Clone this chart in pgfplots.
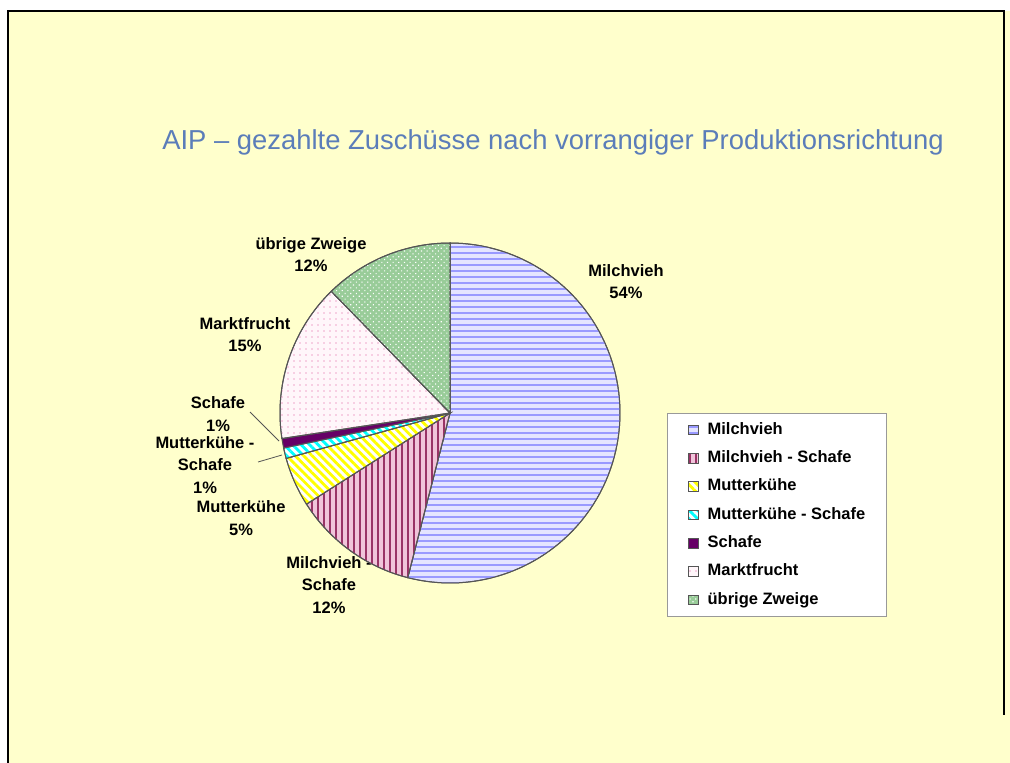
\documentclass[border=0pt]{standalone}
\usepackage{pgfplots}
\pgfplotsset{compat=1.18}
\usetikzlibrary{patterns,patterns.meta}
\usepackage{fontspec}
\setmainfont{Liberation Sans}

\definecolor{bgyellow}{HTML}{FFFFCC}
\definecolor{titleblue}{HTML}{5B7DB9}
\definecolor{lav}{HTML}{9999FF}
\definecolor{lavbg}{HTML}{E4E4FF}
\definecolor{plum}{HTML}{993366}
\definecolor{pinkbg}{HTML}{F0C4DA}
\definecolor{ylw}{HTML}{FFFF00}
\definecolor{cyn}{HTML}{00FFFF}
\definecolor{purp}{HTML}{660066}
\definecolor{pinkdot}{HTML}{F0A8CC}
\definecolor{pinkbg2}{HTML}{FFF6FA}
\definecolor{grn}{HTML}{99CC99}
\definecolor{edge}{HTML}{555555}

% shares in percent (start of slice = sum of previous shares)
% Milchvieh 54.0, Milchvieh - Schafe 12.0, Mutterkuehe 4.7,
% Mutterkuehe - Schafe 1.0, Schafe 0.9, Marktfrucht 15.1, uebrige Zweige 12.3
\newcommand{\slice}[4]{%
  \pgfmathsetmacro\dA{90-3.6*(#1+#2)}%
  \pgfmathsetmacro\dB{90-3.6*(#1)}%
  \addplot[#3, domain=\dA:\dB, samples=90] ({cos(x)},{sin(x)}) -- (axis cs:0,0) -- cycle;
  \addlegendentry{#4}%
}

\begin{document}
\begin{tikzpicture}[x=0.5pt,y=-0.5pt]
\useasboundingbox (0,0) rectangle (1010,763);
\fill[white] (0,0) rectangle (1010,763);
\fill[bgyellow] (8,11) rectangle (1010,763);
\draw[black, line width=1pt] (8,763) -- (8,11) -- (1004,11) -- (1004,715);

\node[text=titleblue, font=\fontsize{13.7}{16}\selectfont] at (553,142)
  {AIP – gezahlte Zuschüsse nach vorrangiger Produktionsrichtung};

\tikzset{lab/.style={align=center, font=\bfseries\fontsize{8.25}{11.3}\selectfont, inner sep=0pt}}
\node[lab] at (626,281.5) {Milchvieh\\54\%};
\node[lab] at (311,254.5) {übrige Zweige\\12\%};
\node[lab] at (245,334.5) {Marktfrucht\\15\%};
\node[lab] at (218,414) {Schafe\\1\%};
\node[lab] at (205,465) {Mutterkühe -\\Schafe\\1\%};
\node[lab] at (241,518) {Mutterkühe\\5\%};
\node[lab] at (329,585) {Milchvieh -\\Schafe\\12\%};
\draw[edge, line width=0.4pt] (250,412) -- (279,441);
\draw[edge, line width=0.4pt] (258,462) -- (282,455);

\begin{axis}[
  at={(225pt,-206.5pt)}, anchor=center,
  width=170pt, height=170pt, scale only axis,
  xmin=-1, xmax=1, ymin=-1, ymax=1,
  hide axis, clip=false,
  every axis plot/.append style={draw=edge, line width=0.5pt},
  legend image code/.code={\draw[#1] (0pt,-2.4pt) rectangle (4.8pt,2.4pt);},
  legend cell align=left,
  legend style={at={(1.1382,0.5)}, anchor=north west,
    draw=gray!80, fill=white,
    font=\bfseries\fontsize{8.25}{10}\selectfont,
    inner xsep=10.5pt, inner ysep=4.5pt,
    row sep=6.45pt, column sep=4.3pt,
    nodes={inner sep=0pt, text height=6pt, text depth=1.7pt}},
]
\slice{0}{54.0}{fill=lavbg, postaction={pattern={Lines[angle=0,distance=3pt,line width=1.4pt]}, pattern color=lav}}{Milchvieh}
\slice{54.0}{12.0}{fill=pinkbg, postaction={pattern={Lines[angle=90,distance=3pt,line width=1pt]}, pattern color=plum}}{Milchvieh - Schafe}
\slice{66.0}{4.7}{fill=white, postaction={pattern={Lines[angle=-45,distance=3pt,line width=1.4pt]}, pattern color=ylw}}{Mutterkühe}
\slice{70.7}{1.0}{fill=white, postaction={pattern={Lines[angle=-45,distance=3pt,line width=1.4pt]}, pattern color=cyn}}{Mutterkühe - Schafe}
\slice{71.7}{0.9}{fill=purp}{Schafe}
\slice{72.6}{15.1}{fill=pinkbg2, postaction={pattern={Dots[distance=3pt,radius=0.45pt]}, pattern color=pinkdot}}{Marktfrucht}
\slice{87.7}{12.3}{fill=grn, postaction={pattern={Dots[distance=2pt,angle=45,radius=0.4pt]}, pattern color=white}}{übrige Zweige}
\end{axis}
\end{tikzpicture}
\end{document}
